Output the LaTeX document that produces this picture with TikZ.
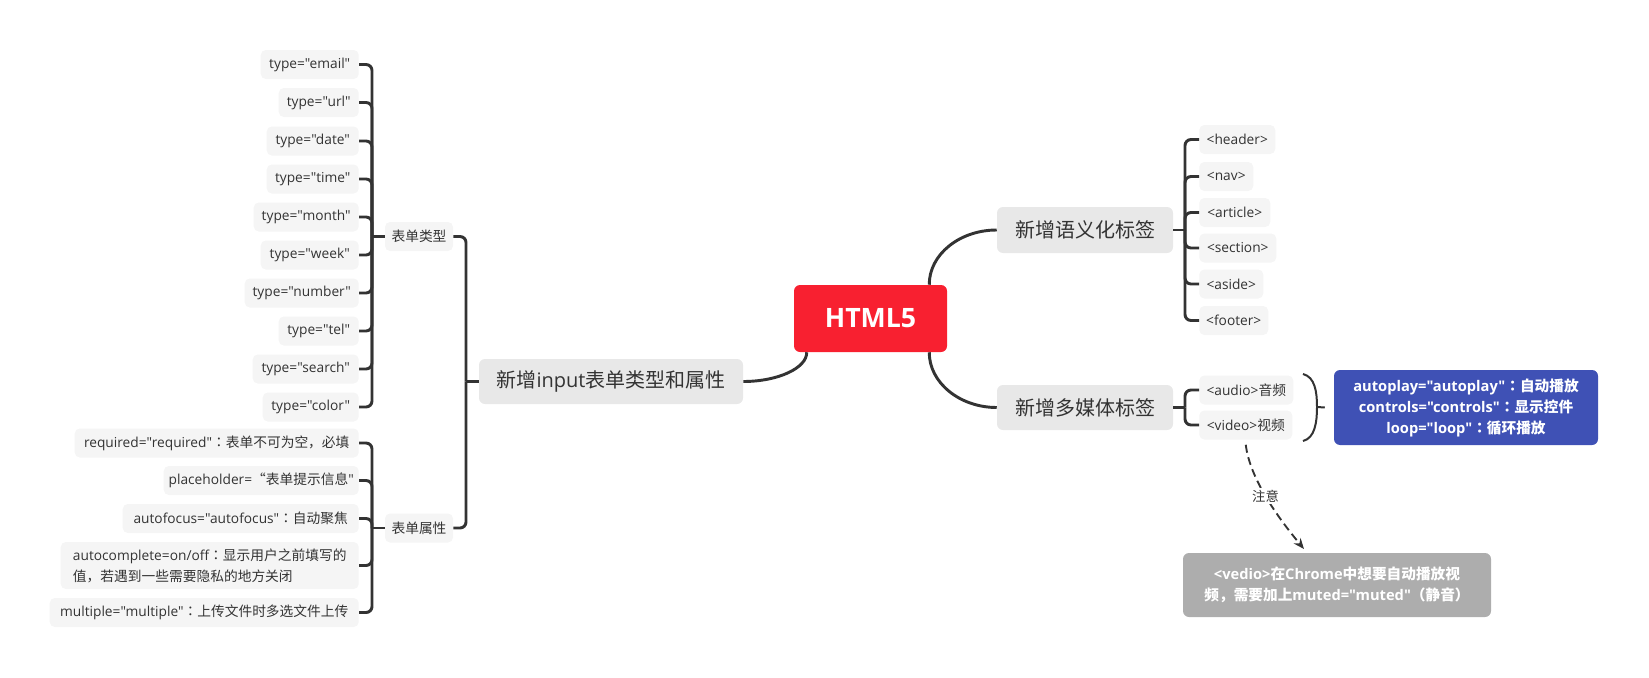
\documentclass[tikz,border=0pt]{standalone}
\usepackage{fontspec}
\setmainfont{Open Sans}[Ligatures=TeXOff]
\newfontfamily\cjk{Noto Sans CJK SC}[Ligatures=TeXOff]
\newfontfamily\cjktc{Noto Sans CJK TC}[Ligatures=TeXOff]
\newcommand\zh[1]{{\cjk #1}}
\newcommand\cc{{\cjktc ：}}
\usetikzlibrary{arrows.meta}
\definecolor{txt}{HTML}{333333}
\definecolor{mainfill}{HTML}{E8E8E8}
\definecolor{subfill}{HTML}{F5F5F5}
\definecolor{rootred}{RGB}{248,32,48}
\definecolor{sumblue}{RGB}{63,81,181}
\definecolor{notegray}{HTML}{ADADAD}
\definecolor{linec}{HTML}{333333}
\newdimen\pxu \pxu=0.75pt
\begin{document}
\begin{tikzpicture}[x=0.75pt,y=-0.75pt,
  leaf/.style={fill=subfill, text=txt, rounded corners=5\pxu, inner xsep=0pt, inner ysep=0pt,
    minimum height=29\pxu, font=\fontsize{10.3pt}{15.75pt}\selectfont},
  topic/.style={fill=mainfill, text=txt, rounded corners=6\pxu, inner sep=0pt,
    minimum height=45\pxu, font=\fontsize{15pt}{18pt}\selectfont},
  rootbox/.style={fill=rootred, text=white, rounded corners=6\pxu, inner sep=0pt,
    minimum width=153\pxu, minimum height=67\pxu, font=\fontsize{20pt}{24pt}\selectfont\bfseries},
  br/.style={draw=linec, line width=2.2pt, rounded corners=6\pxu},
  conn/.style={draw=linec, line width=2.2pt},
  boldbox/.style={text=white, rounded corners=6\pxu, inner sep=0pt, align=center,
    font=\fontsize{11pt}{15.75pt}\selectfont\bfseries}
]
\useasboundingbox (0,0) rectangle (1649,678);

% root
\node[rootbox] (root) at (870.5,318.5) {HTML5};

% main topics
\node[topic, minimum width=264\pxu] (input) at (611,381.5) {\zh{新增}input\zh{表单类型和属性}};
\node[topic, minimum width=176\pxu, minimum height=46\pxu] (sem) at (1085,230) {\zh{新增语义化标签}};
\node[topic, minimum width=176\pxu] (media) at (1085,407.5) {\zh{新增多媒体标签}};

% second level left
\node[leaf, minimum width=68\pxu] (tp) at (419,236.5) {\zh{表单类型}};
\node[leaf, minimum width=68\pxu] (pr) at (419,528) {\zh{表单属性}};

% types
\node[leaf, anchor=east, minimum width=98\pxu] (t1) at (359,64.5) {type="email"};
\node[leaf, anchor=east, minimum width=80\pxu] (t2) at (359,102.5) {type="url"};
\node[leaf, anchor=east, minimum width=92\pxu] (t3) at (359,141) {type="date"};
\node[leaf, anchor=east, minimum width=92\pxu] (t4) at (359,179) {type="time"};
\node[leaf, anchor=east, minimum width=105\pxu] (t5) at (359,217) {type="month"};
\node[leaf, anchor=east, minimum width=98\pxu] (t6) at (359,255) {type="week"};
\node[leaf, anchor=east, minimum width=114\pxu] (t7) at (359,293) {type="number"};
\node[leaf, anchor=east, minimum width=80\pxu] (t8) at (359,331) {type="tel"};
\node[leaf, anchor=east, minimum width=106\pxu] (t9) at (359,369) {type="search"};
\node[leaf, anchor=east, minimum width=96\pxu] (t10) at (359,407) {type="color"};

% properties
\node[leaf, anchor=east, minimum width=284\pxu] (p1) at (359,443) {required="required"\cc\zh{表单不可为空，必填}};
\node[leaf, anchor=east, minimum width=195\pxu] (p2) at (359,480.5) {placeholder=\zh{“表单提示信息}"};
\node[leaf, anchor=east, minimum width=236\pxu] (p3) at (359,518.5) {autofocus="autofocus"\cc\zh{自动聚焦}};
\node[leaf, anchor=east, minimum width=298\pxu, minimum height=47\pxu, align=left] (p4) at (359,565.5) {autocomplete=on/off\cc\zh{显示用户之前填写的}\\\zh{值，若遇到一些需要隐私的地方关闭}};
\node[leaf, anchor=east, minimum width=309\pxu] (p5) at (359,612.5) {multiple="multiple"\cc\zh{上传文件时多选文件上传}};

% semantic tags
\node[leaf, anchor=west, minimum width=76\pxu] (s1) at (1199,139.5) {<header>};
\node[leaf, anchor=west, minimum width=54\pxu] (s2) at (1199,176.5) {<nav>};
\node[leaf, anchor=west, minimum width=71\pxu] (s3) at (1199,212.5) {<article>};
\node[leaf, anchor=west, minimum width=77\pxu] (s4) at (1199,248) {<section>};
\node[leaf, anchor=west, minimum width=64\pxu] (s5) at (1199,284) {<aside>};
\node[leaf, anchor=west, minimum width=69\pxu] (s6) at (1199,320.5) {<footer>};

% media
\node[leaf, anchor=west, minimum width=94\pxu] (audio) at (1199,390) {<audio>\zh{音频}};
\node[leaf, anchor=west, minimum width=93\pxu] (video) at (1199,425) {<video>\zh{视频}};

% summary and note
\node[boldbox, fill=sumblue, minimum width=264\pxu, minimum height=75\pxu] (sum) at (1466,407.5)
  {autoplay="autoplay"\cc\zh{自动播放}\\controls="controls"\cc\zh{显示控件}\\loop="loop"\cc\zh{循环播放}};
\node[boldbox, fill=notegray, minimum width=308\pxu, minimum height=64\pxu] (note) at (1337,585)
  {<vedio>\zh{在}Chrome\zh{中想要自动播放视}\\\zh{频，需要加上}muted="muted"\zh{（静音）}};
\coordinate (noteend) at (1304,549);

% root connectors
\draw[conn] ([xshift=-18\pxu]root.north east) .. controls (929,254.6) and (959.5,230) .. (sem.west);
\draw[conn] ([xshift=-18\pxu]root.south east) .. controls (929,382.4) and (959.5,407.5) .. (media.west);
\draw[conn] (input.east) .. controls (778,381.5) and (807,368) .. ([xshift=13\pxu]root.south west);

% input bracket
\draw[br] (tp.east) -| (466,381.5);
\draw[br] (pr.east) -| (466,381.5);
\draw[conn] (input.west) -- (466,381.5);

% types bracket
\foreach \n in {t1,t2,t3,t4,t5,t6,t7,t8,t9,t10} {\draw[br] (\n.east) -| (372,236.5);}
\draw[conn] (tp.west) -- (372,236.5);

% properties bracket
\foreach \n in {p1,p2,p3,p4,p5} {\draw[br] (\n.east) -| (372,528);}
\draw[conn] (pr.west) -- (372,528);

% semantic bracket
\foreach \n in {s1,s2,s3,s4,s5,s6} {\draw[br] (\n.west) -| (1185,230);}
\draw[conn] (sem.east) -- (1185,230);

% media bracket
\foreach \n in {audio,video} {\draw[br] (\n.west) -| (1185,407.5);}
\draw[conn] (media.east) -- (1185,407.5);

% summary parenthesis
\draw[linec, line width=1.5pt] (1303,374) .. controls (1315,377) and (1317,392) .. (1317,407)
  .. controls (1317,422) and (1315,438) .. (1303,441);
\draw[linec, line width=1.5pt] (1317,407) -- ([xshift=-9\pxu]sum.west);

% dashed note arrow
\draw[linec, line width=1.4pt, dash pattern=on 6pt off 3.5pt, -{Stealth[length=8pt,width=6.5pt]}]
  ([yshift=-5\pxu]video.south) .. controls (1250,480) and (1280,520) .. (noteend)
  node[pos=0.47, fill=white, text=txt, inner sep=1.5pt, font=\cjk\fontsize{10pt}{12pt}\selectfont] (lbl) {注意};
\end{tikzpicture}
\end{document}
